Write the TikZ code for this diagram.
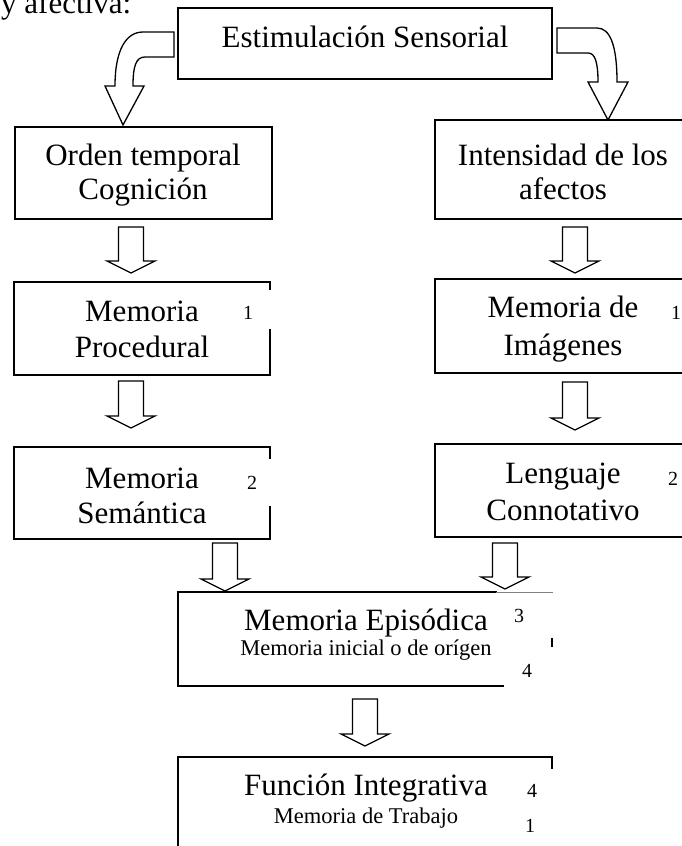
\documentclass[tikz,border=0pt]{standalone}
\usepackage{fontspec}
\setmainfont{Liberation Serif}
\begin{document}
\begin{tikzpicture}[x=1pt,y=-1pt,
  boxline/.style={line width=1.6pt,line cap=rect},
  barrow/.style={line width=1.3pt,line join=miter,fill=white},
  big/.style={inner sep=0pt,anchor=base,font=\fontsize{31}{34}\selectfont},
  small/.style={inner sep=0pt,anchor=base,font=\fontsize{22.5}{25}\selectfont},
  num/.style={inner sep=0pt,anchor=base,font=\fontsize{20}{22}\selectfont}]
\useasboundingbox (0,0) rectangle (682,846);
\clip (0,0) rectangle (682,846);
\newcommand\blockarrow[3]{%
  \draw[barrow] (#1-12.5,#2) -- (#1+12.5,#2) -- (#1+12.5,#3-12) -- (#1+24,#3-12)
    -- (#1,#3) -- (#1-24,#3-12) -- (#1-12.5,#3-12) -- cycle;}
% heading text
\node[big,anchor=base west] (head) at (1,13) {y afectiva:};
% top box
\draw[boxline] (178,8) rectangle (552,79);
\node[big] (est) at (365,47) {Estimulación Sensorial};
% curved arrows
\draw[barrow] (174,32) -- (143,32) .. controls (126,32) and (115,50) .. (115,86)
  -- (105,86) -- (123,125) -- (144,86) -- (133,86)
  .. controls (133,66) and (136,57) .. (145,57) -- (174,57) -- cycle;
\draw[barrow] (557,28) -- (597,28) .. controls (610,28) and (617,45) .. (617,82)
  -- (628,82) -- (608,120) -- (588,82) -- (598,82)
  .. controls (598,62) and (595,53) .. (588,53) -- (557,53) -- cycle;
% left column
\draw[boxline] (15,127) rectangle (272,219);
\node[big] (ord) at (143,165) {Orden temporal};
\node[big] (cog) at (143,199) {Cognición};
\blockarrow{131}{227}{273}
\draw[boxline] (270,289) -- (270,282) -- (14,282) -- (14,375) -- (270,375) -- (270,330);
\node[big] (mp1) at (142,321) {Memoria};
\node[big] (mp2) at (142,357) {Procedural};
\node[num] (n1a) at (248,319) {1};
\blockarrow{131}{381}{428}
\draw[boxline] (270,458) -- (270,447) -- (14,447) -- (14,539) -- (270,539) -- (270,507);
\node[big] (ms1) at (142,488) {Memoria};
\node[big] (ms2) at (142,523) {Semántica};
\node[num] (n2a) at (252,489) {2};
\blockarrow{225}{543}{591}
% right column
\draw[boxline] (435,120) rectangle (691,219);
\node[big] (int1) at (563,165) {Intensidad de los};
\node[big] (int2) at (563,199) {afectos};
\blockarrow{575}{227}{273}
\draw[boxline] (435,279) rectangle (691,373);
\node[big] (mi1) at (563,317) {Memoria de};
\node[big] (mi2) at (563,355) {Imágenes};
\node[num] (n1b) at (676,319) {1};
\blockarrow{575}{382}{430}
\draw[boxline] (435,444) rectangle (691,537);
\node[big] (len1) at (563,483) {Lenguaje};
\node[big] (len2) at (563,520) {Connotativo};
\node[num] (n2b) at (673,485) {2};
\blockarrow{505}{543}{589}
% episodic box
\draw[boxline] (496,592) -- (178,592) -- (178,686) -- (503,686);
\draw[gray,line width=0.6pt] (496,592) -- (553,592);
\draw[boxline] (552,639) -- (552,646);
\node[big] (epi1) at (366,630) {Memoria Episódica};
\node[small] (epi2) at (366,655) {Memoria inicial o de orígen};
\node[num] (n3) at (519,622) {3};
\node[num] (n4a) at (527,677) {4};
\blockarrow{365}{699}{746}
% integrative box
\draw[boxline] (552,768) -- (552,757) -- (178,757) -- (178,860);
\node[big] (fun1) at (366,795) {Función Integrativa};
\node[small] (fun2) at (366,823) {Memoria de Trabajo};
\node[num] (n4b) at (532,797) {4};
\node[num] (n1c) at (530,832) {1};
\end{tikzpicture}
\end{document}
